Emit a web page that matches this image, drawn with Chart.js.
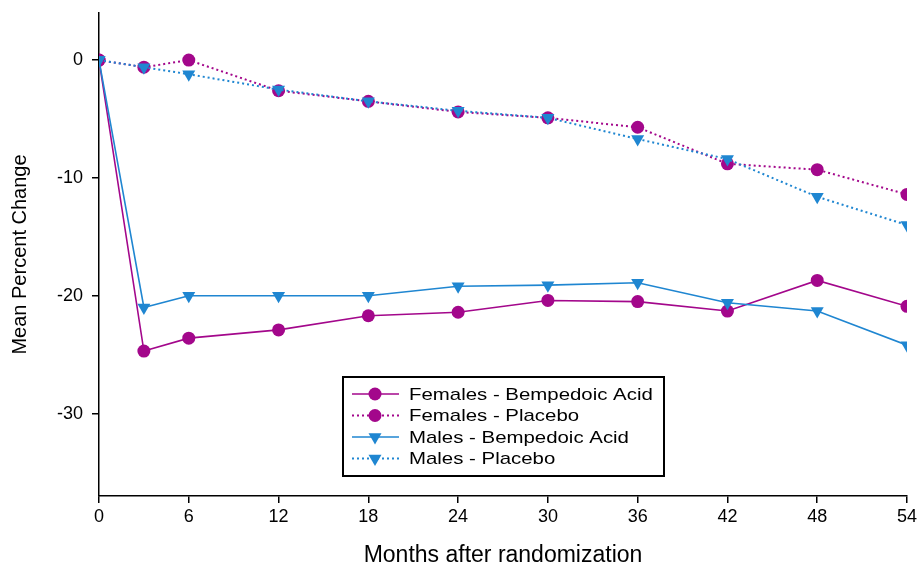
<!DOCTYPE html>
<html>
<head>
<meta charset="utf-8">
<script src="https://cdn.jsdelivr.net/npm/chart.js@4"></script>
<style>
  html, body { margin: 0; padding: 0; background: #fff; }
  #wrap { width: 918px; height: 569px; position: relative; }
</style>
</head>
<body>
<div id="wrap"><canvas id="chart"></canvas></div>
<script>
const months = [0, 3, 6, 12, 18, 24, 30, 36, 42, 48, 54];
const xTicks = [0, 6, 12, 18, 24, 30, 36, 42, 48, 54];
const yTicks = [-30, -20, -10, 0];

const femalesBempedoic = [0, -24.7, -23.6, -22.9, -21.7, -21.4, -20.4, -20.5, -21.3, -18.7, -20.9];
const femalesPlacebo = [0, -0.6, 0, -2.6, -3.5, -4.4, -4.9, -5.7, -8.8, -9.3, -11.4];
const malesBempedoic = [0, -21.0, -20.0, -20.0, -20.0, -19.2, -19.1, -18.9, -20.6, -21.3, -24.2];
const malesPlacebo = [0, -0.6, -1.2, -2.5, -3.5, -4.3, -4.9, -6.7, -8.4, -11.6, -14.0];

const MAGENTA = "#a3078b";
const BLUE = "#1f86d1";
const FONT = "'Liberation Sans', Arial, sans-serif";

function toPoints(values) {
  return months.map((m, i) => ({ x: m, y: values[i] }));
}

function makeSet(label, values, color, dotted, circle) {
  return {
    label: label,
    data: toPoints(values),
    borderColor: color,
    backgroundColor: color,
    borderWidth: dotted ? 2 : 1.6,
    borderDash: dotted ? [2, 3] : [],
    pointStyle: circle ? "circle" : "triangle",
    pointRotation: circle ? 0 : 180,
    pointRadius: circle ? 6.5 : 7.5,
    pointBorderWidth: 0,
    pointBackgroundColor: color,
    order: circle ? 1 : 0,
    tension: 0,
  };
}

// legend box drawn inside the plot, with line samples like the original
const boxLegend = {
  id: "boxLegend",
  afterDraw(chart) {
    const ctx = chart.ctx;
    const x0 = 343, y0 = 377, w = 321, h = 99;
    ctx.save();
    ctx.fillStyle = "#fff";
    ctx.fillRect(x0, y0, w, h);
    ctx.strokeStyle = "#000";
    ctx.lineWidth = 2;
    ctx.setLineDash([]);
    ctx.strokeRect(x0, y0, w, h);
    ctx.font = "17px " + FONT;
    ctx.textBaseline = "middle";
    chart.data.datasets.forEach((ds, i) => {
      const cy = y0 + 17 + i * 21.5;
      ctx.strokeStyle = ds.borderColor;
      ctx.lineWidth = ds.borderWidth;
      ctx.setLineDash(ds.borderDash);
      ctx.beginPath();
      ctx.moveTo(x0 + 9, cy);
      ctx.lineTo(x0 + 56, cy);
      ctx.stroke();
      ctx.setLineDash([]);
      ctx.fillStyle = ds.backgroundColor;
      Chart.helpers.drawPoint(ctx, {
        pointStyle: ds.pointStyle,
        rotation: ds.pointRotation,
        radius: ds.pointRadius,
        borderWidth: 0,
      }, x0 + 32, cy);
      // the original text is a little stretched sideways
      ctx.save();
      ctx.translate(x0 + 66, cy + 1);
      ctx.scale(1.2, 1);
      ctx.fillStyle = "#000";
      ctx.fillText(ds.label, 0, 0);
      ctx.restore();
    });
    ctx.restore();
  },
};

new Chart(document.getElementById("chart"), {
  type: "line",
  data: {
    datasets: [
      makeSet("Females - Bempedoic Acid", femalesBempedoic, MAGENTA, false, true),
      makeSet("Females - Placebo", femalesPlacebo, MAGENTA, true, true),
      makeSet("Males - Bempedoic Acid", malesBempedoic, BLUE, false, false),
      makeSet("Males - Placebo", malesPlacebo, BLUE, true, false),
    ],
  },
  options: {
    responsive: true,
    maintainAspectRatio: false,
    animation: false,
    layout: { padding: { top: 13, right: 11, left: 0, bottom: 0 } },
    plugins: {
      legend: { display: false },
      tooltip: { enabled: false },
    },
    scales: {
      x: {
        type: "linear",
        min: 0,
        max: 54,
        afterBuildTicks: (s) => { s.ticks = xTicks.map((v) => ({ value: v })); },
        afterFit: (s) => { s.height = 73; s.paddingLeft = 0; s.paddingRight = 0; },
        ticks: { color: "#000", font: { family: FONT, size: 18 }, padding: 3, maxRotation: 0 },
        grid: { drawOnChartArea: false, drawTicks: true, tickLength: 7, color: "#000", lineWidth: 1.5 },
        border: { display: true, color: "#000", width: 1.5 },
        title: {
          display: true,
          text: "Months after randomization",
          color: "#000",
          font: { family: FONT, size: 23 },
          padding: { top: 4, bottom: 0 },
        },
      },
      y: {
        min: -37,
        max: 4,
        afterBuildTicks: (s) => { s.ticks = yTicks.map((v) => ({ value: v })); },
        afterFit: (s) => { s.width = 99; s.paddingTop = 0; s.paddingBottom = 0; },
        ticks: { color: "#000", font: { family: FONT, size: 18 }, padding: 9 },
        grid: { drawOnChartArea: false, drawTicks: true, tickLength: 7, color: "#000", lineWidth: 1.5 },
        border: { display: true, color: "#000", width: 1.5 },
        title: {
          display: true,
          text: "Mean Percent Change",
          color: "#000",
          font: { family: FONT, size: 20 },
          padding: { top: 8, bottom: 0 },
        },
      },
    },
  },
  plugins: [boxLegend],
});
</script>
</body>
</html>
